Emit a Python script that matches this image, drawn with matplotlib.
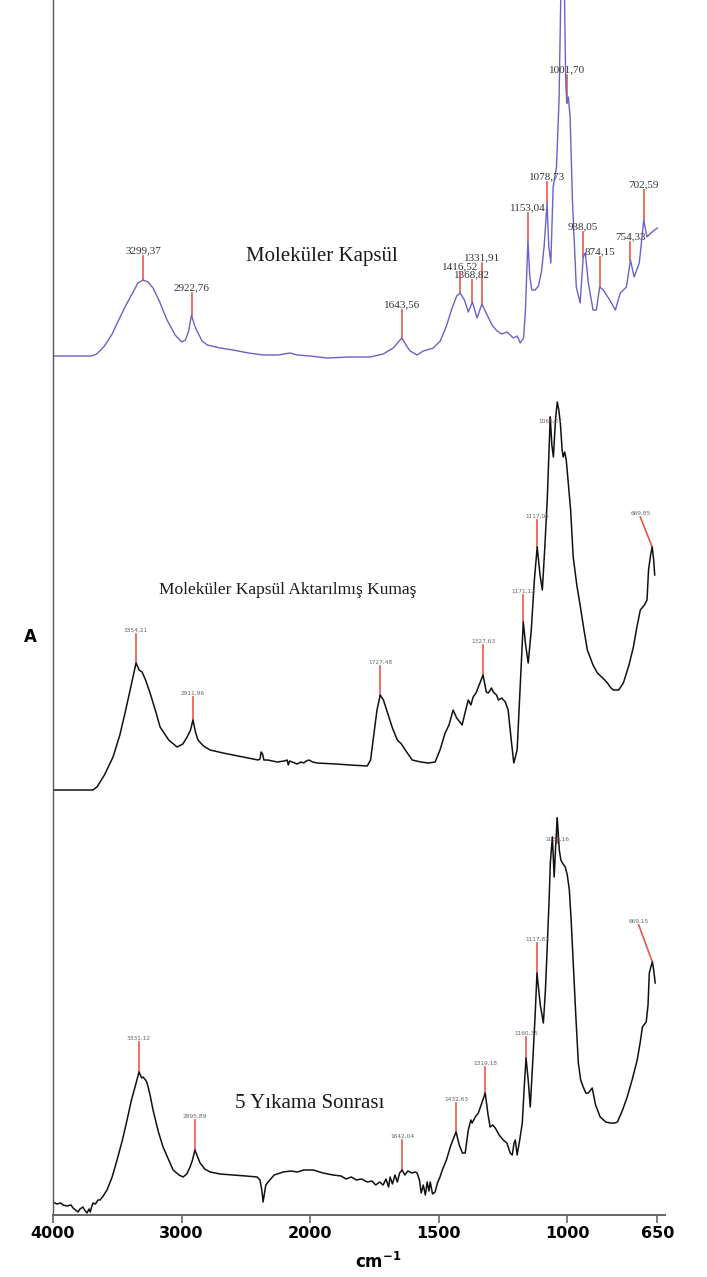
import numpy as np
import matplotlib
matplotlib.use("Agg")
import matplotlib.pyplot as plt

# --- spectra (wavenumber in cm-1, absorbance in arbitrary units above each baseline) ---
kapsul_wn = [4000, 3800, 3700, 3660, 3600, 3540, 3500, 3440, 3377, 3340, 3299.37, 3260,
             3222, 3170, 3113, 3050, 3000, 2970, 2945, 2922.76, 2900, 2880, 2840, 2800,
             2700, 2600, 2480, 2366, 2250, 2156, 2100, 2000, 1934, 1850, 1767, 1716, 1677,
             1643.56, 1625, 1611, 1584, 1560, 1521, 1494, 1470, 1448, 1430, 1416.52, 1400,
             1385, 1368.82, 1351, 1331.91, 1310, 1290, 1273, 1255, 1234, 1210, 1195, 1183,
             1170, 1163, 1153.04, 1146, 1138, 1125, 1112, 1100, 1090, 1078.73, 1072, 1064,
             1055, 1042, 1032, 1024, 1012, 1006, 1001.70, 996, 989, 980, 965, 950, 938.05,
             930, 918, 900, 887, 874.15, 860, 835, 813, 794, 770, 754.33, 740, 720, 702.59,
             690, 675, 650]
kapsul_abs = [0.00, 0.00, 0.00, 0.02, 0.10, 0.22, 0.33, 0.49, 0.64, 0.73, 0.76, 0.74,
              0.68, 0.54, 0.36, 0.21, 0.14, 0.16, 0.25, 0.41, 0.31, 0.25, 0.15, 0.11,
              0.08, 0.06, 0.03, 0.01, 0.01, 0.03, 0.01, 0.00, -0.02, -0.01, -0.01, 0.02, 0.08,
              0.18, 0.10, 0.05, 0.01, 0.05, 0.08, 0.15, 0.30, 0.48, 0.60, 0.63, 0.56,
              0.44, 0.54, 0.38, 0.52, 0.40, 0.30, 0.25, 0.22, 0.24, 0.18, 0.20, 0.13,
              0.18, 0.45, 1.16, 0.80, 0.66, 0.66, 0.70, 0.85, 1.10, 1.53, 1.10, 0.93,
              1.69, 1.89, 2.56, 3.80, 3.80, 2.73, 2.53, 2.59, 2.39, 1.56, 0.69, 0.53, 0.99,
              1.03, 0.73, 0.46, 0.46, 0.69, 0.66, 0.56, 0.46, 0.63, 0.69, 0.96, 0.79, 0.93, 1.36,
              1.19, 1.23, 1.28]

kumas_wn = [4000, 3800, 3690, 3658, 3600, 3533, 3480, 3440, 3400, 3354.21, 3330, 3307,
            3280, 3245, 3200, 3167, 3100, 3035, 2990, 2957, 2930, 2911.96, 2890, 2872,
            2830, 2778, 2677, 2600, 2521, 2405, 2390, 2381, 2370, 2360, 2330, 2257, 2200,
            2179, 2170, 2160, 2101, 2070, 2050, 2030, 2010, 1990, 1973, 1900, 1844, 1778,
            1765, 1755, 1740, 1727.48, 1715, 1700, 1680, 1661, 1645, 1630, 1603, 1570,
            1540, 1514, 1495, 1475, 1460, 1444, 1430, 1409, 1395, 1385, 1375, 1366, 1355,
            1346, 1327.63, 1315, 1307, 1295, 1288, 1275, 1268, 1255, 1241, 1230, 1218, 1208,
            1195, 1182, 1171.12, 1162, 1152, 1140, 1128, 1117.05, 1106, 1097, 1088, 1078,
            1071, 1066.27, 1060, 1054, 1046, 1039, 1033, 1027, 1020, 1016, 1010, 1004, 996,
            987, 977, 963, 949, 935, 922, 900, 883, 862, 844, 830, 821, 800, 782, 760, 743,
            730, 716, 700, 690, 684, 676, 669.85, 664, 660]
kumas_abs = [0.00, 0.00, 0.00, 0.03, 0.15, 0.33, 0.55, 0.77, 1.00, 1.27, 1.20, 1.18,
             1.10, 0.97, 0.78, 0.63, 0.50, 0.43, 0.46, 0.53, 0.60, 0.70, 0.57, 0.50,
             0.44, 0.40, 0.37, 0.35, 0.33, 0.30, 0.31, 0.38, 0.36, 0.30, 0.30, 0.28, 0.29,
             0.30, 0.25, 0.29, 0.26, 0.28, 0.27, 0.29, 0.30, 0.28, 0.27, 0.26, 0.25, 0.24,
             0.30, 0.50, 0.80, 0.95, 0.90, 0.78, 0.62, 0.50, 0.46, 0.40, 0.30, 0.28,
             0.27, 0.28, 0.40, 0.57, 0.65, 0.80, 0.72, 0.65, 0.80, 0.90, 0.85, 0.93, 0.97,
             1.03, 1.15, 0.98, 0.97, 1.02, 0.98, 0.95, 0.90, 0.92, 0.88, 0.80, 0.50, 0.27,
             0.40, 1.10, 1.68, 1.45, 1.27, 1.60, 2.10, 2.43, 2.15, 2.00, 2.40, 2.90,
             3.40, 3.73, 3.45, 3.33, 3.70, 3.88, 3.80, 3.67, 3.40, 3.33, 3.38, 3.30, 3.07,
             2.80, 2.33, 2.05, 1.83, 1.60, 1.40, 1.25, 1.17, 1.12, 1.07, 1.02, 1.00, 1.00, 1.07, 1.25, 1.43,
             1.62, 1.80, 1.85, 1.90, 2.20, 2.35, 2.43, 2.30, 2.15]

yikama_wn = [4000, 3970, 3940, 3922, 3890, 3860, 3844, 3825, 3805, 3790, 3767, 3750, 3735,
             3720, 3710, 3700, 3689, 3670, 3650, 3634, 3610, 3580, 3540, 3502, 3460, 3424,
             3390, 3362, 3331.12, 3310, 3300, 3280, 3268, 3245, 3222, 3180, 3144, 3100, 3066,
             3020, 2988, 2960, 2934, 2915, 2895.89, 2875, 2856, 2820, 2778, 2700, 2599, 2500,
             2412, 2390, 2375, 2366, 2355, 2345, 2327, 2280, 2210, 2150, 2100, 2050, 1988,
             1950, 1911, 1880, 1860, 1840, 1820, 1800, 1778, 1760, 1745, 1730, 1716, 1705,
             1695, 1689, 1680, 1670, 1661, 1652, 1642.04, 1632, 1620, 1605, 1590, 1584, 1575,
             1568, 1560, 1552, 1545, 1538, 1533, 1524, 1514, 1505, 1495, 1486, 1470, 1455,
             1445, 1432.63, 1420, 1408, 1397, 1385, 1375, 1370, 1358, 1346, 1335, 1319.18,
             1308, 1300, 1290, 1280, 1265, 1249, 1235, 1222, 1214, 1207, 1202, 1195, 1185,
             1175, 1167, 1160.35, 1152, 1144, 1135, 1125, 1117.83, 1105, 1093, 1085, 1078,
             1070, 1066, 1058, 1051, 1045, 1039.16, 1031, 1025, 1019, 1008, 1000, 992, 985,
             977, 967, 957, 948, 938, 928, 918, 903, 890, 872, 850, 833, 815, 805, 785, 767,
             748, 728, 715, 708, 693, 686, 681, 675, 669.15, 664, 658]
yikama_abs = [0.13, 0.11, 0.12, 0.10, 0.09, 0.10, 0.07, 0.05, 0.03, 0.06, 0.08, 0.04, 0.02,
              0.06, 0.03, 0.08, 0.12, 0.11, 0.15, 0.15, 0.19, 0.25, 0.38, 0.55, 0.75, 0.95,
              1.15, 1.28, 1.43, 1.37, 1.38, 1.35, 1.32, 1.20, 1.05, 0.83, 0.68, 0.55, 0.45,
              0.40, 0.38, 0.41, 0.48, 0.55, 0.65, 0.58, 0.52, 0.46, 0.43, 0.41, 0.40, 0.39,
              0.38, 0.35, 0.24, 0.13, 0.22, 0.30, 0.33, 0.40, 0.43, 0.44, 0.43, 0.45, 0.45,
              0.42, 0.40, 0.39, 0.36, 0.38, 0.35, 0.36, 0.33, 0.34, 0.30, 0.33, 0.30, 0.36,
              0.28, 0.38, 0.31, 0.40, 0.33, 0.42, 0.45, 0.40, 0.44, 0.42, 0.43, 0.42, 0.35,
              0.22, 0.30, 0.20, 0.33, 0.24, 0.33, 0.21, 0.23, 0.32, 0.38, 0.45, 0.55, 0.68,
              0.75, 0.83, 0.70, 0.62, 0.62, 0.85, 0.95, 0.92, 0.98, 1.02, 1.10, 1.22,
              1.00, 0.88, 0.90, 0.87, 0.80, 0.75, 0.72, 0.62, 0.60, 0.72, 0.75, 0.60, 0.75,
              0.92, 1.30, 1.57, 1.35, 1.08, 1.50, 2.00, 2.42, 2.10, 1.92, 2.25, 2.68,
              3.20, 3.52, 3.78, 3.38, 3.70, 3.97, 3.65, 3.55, 3.52, 3.48, 3.40, 3.25, 2.95,
              2.52, 2.00, 1.52, 1.35, 1.28, 1.22, 1.22, 1.27, 1.10, 0.98, 0.93, 0.92, 0.92, 0.93, 1.05, 1.18,
              1.35, 1.55, 1.75, 1.88, 1.93, 2.10, 2.42, 2.48, 2.53, 2.45, 2.32]

# labelled peaks of each spectrum
kapsul_peaks = [3299.37, 2922.76, 1643.56, 1416.52, 1368.82, 1331.91, 1153.04, 1078.73,
                1001.70, 938.05, 874.15, 754.33, 702.59]
kumas_peaks = [3354.21, 2911.96, 1727.48, 1327.63, 1171.12, 1117.05, 1066.27, 669.85]
yikama_peaks = [3331.12, 2895.89, 1642.04, 1432.63, 1319.18, 1160.35, 1117.83, 1039.16, 669.15]

spectrum_names = ["Moleküler Kapsül", "Moleküler Kapsül Aktarılmış Kumaş", "5 Yıkama Sonrası"]
x_ticks = [4000, 3000, 2000, 1500, 1000, 650]

# layout
offsets = [8.59, 4.25, 0.0]
kapsul_stems = [0.24, 0.22, 0.28, 0.21, 0.22, 0.41, 0.27, 0.21, 0.28, 0.25, 0.30, 0.18, 0.30]
kumas_stems = [0.29, 0.23, 0.29, 0.30, 0.27, 0.27, -0.08, 0.30]
yikama_stems = [0.30, 0.30, 0.30, 0.29, 0.26, 0.21, 0.30, -0.25, 0.37]
# the last label of the fabric spectra sits left of its peak, on a slanted leader
kumas_label_wn = kumas_peaks[:-1] + [716]
yikama_label_wn = yikama_peaks[:-1] + [722]
name_pos = [(1953, 9.59), (2171, 6.25), (2000, 1.12)]
name_size = [15, 12.5, 15]

PURPLE = "#6b62c8"
STEM_RED = "#e8574d"


def _fwd(w):
    # below 2000 cm-1 the axis is stretched twice as wide
    w = np.asarray(w, dtype=float)
    return np.where(w >= 2000, w, 2 * w - 2000)


def _inv(u):
    u = np.asarray(u, dtype=float)
    return np.where(u >= 2000, u, (u + 2000) / 2)


def fmt_wn(w):
    return f"{w:.2f}".replace(".", ",")


def label_peaks(ax, wn, absorb, offset, peaks, stems, label_wn, text_kw):
    for pk, stem, lw_ in zip(peaks, stems, label_wn):
        y0 = offset + absorb[wn.index(pk)]
        y1 = y0 + stem
        ax.plot([pk, lw_], [y0, y1], color=STEM_RED, lw=1.2, zorder=1)
        ax.text(lw_, y1 + 0.01, fmt_wn(pk), ha="center", va="bottom", zorder=3, **text_kw)


fig = plt.figure(figsize=(7.07, 12.77), dpi=100)
ax = fig.add_axes([53 / 707, 62 / 1277, 612 / 707, 1215 / 1277])
ax.set_xscale("function", functions=(_fwd, _inv))
ax.set_xlim(4000, 620)
ax.set_ylim(0, 12.15)

ax.plot(kapsul_wn, np.array(kapsul_abs) + offsets[0], color=PURPLE, lw=1.0, zorder=2)
ax.plot(kumas_wn, np.array(kumas_abs) + offsets[1], color="#111111", lw=1.1, zorder=2)
ax.plot(yikama_wn, np.array(yikama_abs) + offsets[2], color="#111111", lw=1.1, zorder=2)

serif_small = dict(fontsize=8, family="Liberation Serif", color="#333333")
tiny = dict(fontsize=4.2, family="DejaVu Sans", color="#666666")
label_peaks(ax, kapsul_wn, kapsul_abs, offsets[0], kapsul_peaks, kapsul_stems,
            kapsul_peaks, serif_small)
label_peaks(ax, kumas_wn, kumas_abs, offsets[1], kumas_peaks, kumas_stems,
            kumas_label_wn, tiny)
label_peaks(ax, yikama_wn, yikama_abs, offsets[2], yikama_peaks, yikama_stems,
            yikama_label_wn, tiny)

for name, (nx, ny), size in zip(spectrum_names, name_pos, name_size):
    ax.text(nx, ny, name, ha="center", va="center", fontsize=size,
            family="Liberation Serif", color="#1a1a1a")

for side in ("top", "right"):
    ax.spines[side].set_visible(False)
ax.spines["left"].set_color("#555555")
ax.spines["left"].set_linewidth(1.0)
ax.spines["bottom"].set_color("#666666")
ax.spines["bottom"].set_linewidth(1.4)

ax.set_yticks([])
ax.set_xticks(x_ticks, [str(t) for t in x_ticks], fontweight="bold")
ax.tick_params(axis="x", direction="out", length=6, width=1.2, color="#666666",
               labelsize=11.5, pad=2)
ax.minorticks_off()

fig.text(378 / 707, 1 - 1262 / 1277, r"$\mathbf{cm^{-1}}$", ha="center", va="center",
         fontsize=12)
fig.text(30 / 707, 1 - 637 / 1277, "A", ha="center", va="center", fontsize=12,
         fontweight="bold")

fig.savefig("out.png", dpi=100)
